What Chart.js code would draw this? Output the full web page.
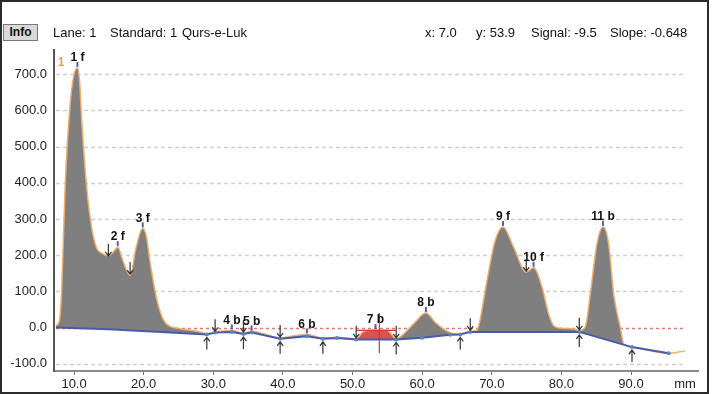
<!DOCTYPE html>
<html>
<head>
<meta charset="utf-8">
<script src="https://cdn.jsdelivr.net/npm/chart.js@4.4.0/dist/chart.umd.min.js"></script>
<style>
  html, body { margin: 0; padding: 0; background: #fff; }
  #wrap { position: relative; width: 713px; height: 394px; font-family: "Liberation Sans", Arial, sans-serif; }
  #frame { position: absolute; left: 0; top: 0; width: 709px; height: 394px; border: 2px solid #2a2a2a; box-sizing: border-box; pointer-events: none; }
  #info { position: absolute; left: 3px; top: 24px; width: 35px; height: 17px; box-sizing: border-box; background: #d9d9d9; border: 1px solid #777; font-weight: bold; font-size: 12px; line-height: 15px; text-align: center; color: #111; }
  .hd { position: absolute; top: 25px; font-size: 13px; line-height: 16px; color: #111; white-space: pre; }
  canvas { position: absolute; left: 0; top: 0; }
</style>
</head>
<body>
<div id="wrap">
  <canvas id="scan" width="713" height="394"></canvas>
  <div id="info">Info</div>
  <div class="hd" style="left:53px">Lane: 1</div>
  <div class="hd" style="left:110px">Standard: 1</div>
  <div class="hd" style="left:182px">Qurs-e-Luk</div>
  <div class="hd" style="left:425px">x: 7.0</div>
  <div class="hd" style="left:476px">y: 53.9</div>
  <div class="hd" style="left:531px">Signal: -9.5</div>
  <div class="hd" style="left:610px">Slope: -0.648</div>
  <div id="frame"></div>
</div>
<script>
// ---------- dados do densitograma ----------
const xTicks = [10, 20, 30, 40, 50, 60, 70, 80, 90];
const yTicks = [-100, 0, 100, 200, 300, 400, 500, 600, 700];

// sinal (mm / AU)
const signalMm = [7.4, 7.9, 8.23, 8.71, 9.43, 9.95, 10.48, 10.8, 11.11, 11.83, 12.55, 13.26, 14.0, 14.93,
  15.6, 16.28, 17.0, 18.05, 18.9, 19.87, 20.4, 20.92, 21.89, 22.83, 23.8, 25.2, 27.0, 28.1,
  29.07, 30.26, 32.66, 34.33, 35.54, 37.5, 39.6, 41.5, 43.44, 45.74, 47.75, 50.52, 51.5, 53.0,
  55.0, 56.27, 57.5, 59.0, 60.54, 62.0, 64.03, 65.47, 66.91, 67.87, 68.3, 69.31, 70.5, 71.61,
  73.13, 74.95, 76.0, 77.21, 78.16, 78.88, 80.0, 81.75, 82.57, 83.43, 84.15, 85.11, 85.98,
  86.78, 87.5, 88.46, 88.94, 90.14, 95.4, 97.8];
const signalVal = [5, 20, 108, 385, 615, 695, 717, 680, 569, 385, 274, 219, 205, 198,
  208, 222, 185, 144, 220, 274, 250, 181, 77, 22, 3, -3, -8, -12,
  -17, -12, -8, -15, -10, -19, -29, -23, -19, -29, -27, -31, -12, -7,
  -8, -31, -15, 15, 40, 12, -14, -17, -10, -8, 20, 130, 241, 278,
  222, 153, 165, 112, 38, 5, -2, -4, -8, 2, 93, 232, 278,
  232, 93, 1, -45, -54, -71, -64];

// linha de base
const baseMm = [7.4, 15.0, 25.2, 29.07, 30.26, 32.66, 34.33, 35.54, 39.6, 43.44, 45.74, 47.75,
  50.52, 56.27, 60.0, 64.03, 65.47, 66.91, 82.57, 90.14, 95.4];
const baseVal = [0, -5, -15, -19, -14, -12, -18, -14, -31, -24, -31, -29,
  -33, -33, -28, -20, -19, -12, -12, -54, -71];

// picos
const peakNames = ["1 f", "2 f", "3 f", "4 b", "5 b", "6 b", "7 b", "8 b", "9 f", "10 f", "11 b"];
const peakMm = [10.48, 16.28, 19.87, 32.66, 35.5, 43.44, 53.3, 60.54, 71.61, 76.0, 85.98];
const peakVal = [717, 222, 274, -8, -11, -19, -7, 40, 278, 165, 278];

// setas de início/fim
const downMm = [14.93, 18.05, 30.26, 34.33, 39.6, 50.52, 56.27, 66.91, 74.95, 82.57];
const downVal = [195, 145, -13, -15, -29, -31, -31, -10, 153, -9];
const upMm = [29.07, 34.33, 39.6, 45.74, 56.27, 65.47, 82.57, 90.14];
const upVal = [-19, -18, -31, -31, -33, -19, -12, -54];

const selRange = [50.5, 56.3];   // pico selecionado (7 b)
const cursorMm = 53.85;
const cursorVal = -8;

// ---------- plugin de anotações ----------
function seta(ctx, x, yTip, dir) {
  const len = 12;
  const yTail = dir < 0 ? yTip - len : yTip + len;
  const hy = dir < 0 ? yTip - 4 : yTip + 4;
  ctx.beginPath();
  ctx.moveTo(x, yTail);
  ctx.lineTo(x, yTip);
  ctx.moveTo(x - 3, hy);
  ctx.lineTo(x, yTip);
  ctx.lineTo(x + 3, hy);
  ctx.stroke();
}

const overlay = {
  id: "overlay",
  beforeDatasetsDraw(chart) {
    const { ctx, scales: { x, y } } = chart;
    const xEnd = x.getPixelForValue(97.6);
    ctx.save();
    ctx.lineWidth = 1.5;
    yTicks.forEach((v) => {
      const py = Math.round(y.getPixelForValue(v)) + 0.5;
      ctx.strokeStyle = v === 0 ? "#e07a7a" : "#cfcfcf";
      ctx.setLineDash(v === 0 ? [3, 3] : [4, 3]);
      ctx.beginPath();
      ctx.moveTo(x.left + 2, py);
      ctx.lineTo(xEnd, py);
      ctx.stroke();
    });
    ctx.restore();
  },
  afterDatasetsDraw(chart) {
    const { ctx, scales: { x, y } } = chart;
    ctx.save();

    // cursor
    const cx = x.getPixelForValue(cursorMm);
    ctx.strokeStyle = "#e03030";
    ctx.lineWidth = 1.2;
    ctx.beginPath();
    ctx.moveTo(cx, y.getPixelForValue(40));
    ctx.lineTo(cx, y.getPixelForValue(-70));
    ctx.moveTo(x.getPixelForValue(50.6), y.getPixelForValue(cursorVal));
    ctx.lineTo(x.getPixelForValue(56.2), y.getPixelForValue(cursorVal));
    ctx.stroke();

    // setas
    ctx.strokeStyle = "#333";
    ctx.lineWidth = 1.2;
    downMm.forEach((m, i) => seta(ctx, x.getPixelForValue(m), y.getPixelForValue(downVal[i]) - 1, -1));
    upMm.forEach((m, i) => seta(ctx, x.getPixelForValue(m), y.getPixelForValue(upVal[i]) + 3, 1));

    // picos
    ctx.font = "bold 12px 'Liberation Sans', Arial";
    ctx.textAlign = "center";
    ctx.textBaseline = "bottom";
    peakNames.forEach((nome, i) => {
      const px = x.getPixelForValue(peakMm[i]);
      const py = y.getPixelForValue(peakVal[i]);
      ctx.strokeStyle = "#5060c0";
      ctx.lineWidth = 2;
      ctx.beginPath();
      ctx.moveTo(px, py - 1);
      ctx.lineTo(px, py - 6);
      ctx.stroke();
      ctx.fillStyle = "#111";
      ctx.fillText(nome, px, py - 4);
    });

    // marcador da pista
    ctx.fillStyle = "#e8a050";
    ctx.font = "bold 12px 'Liberation Sans', Arial";
    ctx.fillText("1", x.getPixelForValue(8.15), y.getPixelForValue(715));
    ctx.restore();
  },
  afterDraw(chart) {
    const ctx = chart.ctx;
    ctx.save();
    ctx.fillStyle = "#222";
    ctx.font = "13px 'Liberation Sans', Arial";
    ctx.textAlign = "center";
    ctx.textBaseline = "middle";
    ctx.fillText("mm", 685, 384);
    ctx.restore();
  }
};

// ---------- gráfico ----------
Chart.defaults.font.family = "'Liberation Sans', Arial, sans-serif";

new Chart(document.getElementById("scan"), {
  type: "line",
  data: {
    datasets: [
      {
        label: "Baseline",
        data: baseMm.map((m, i) => ({ x: m, y: baseVal[i] })),
        borderColor: "#4a5aa8",
        borderWidth: 2,
        pointRadius: (c) => (c.dataIndex >= 3 ? 2 : 0),
        pointBackgroundColor: "#5b86b8",
        pointBorderWidth: 0,
        fill: false,
        tension: 0,
      },
      {
        label: "Signal",
        data: signalMm.map((m, i) => ({ x: m, y: signalVal[i] })),
        borderColor: "rgba(240,175,110,0.95)",
        borderWidth: 1.5,
        backgroundColor: "#7f7f7f",
        pointRadius: 0,
        fill: 0,
        cubicInterpolationMode: "monotone",
        segment: {
          backgroundColor: (c) =>
            c.p0.parsed.x >= selRange[0] && c.p1.parsed.x <= selRange[1] ? "#d4544f" : undefined,
        },
      },
    ],
  },
  options: {
    responsive: false,
    animation: false,
    devicePixelRatio: 1,
    layout: { padding: { top: 50, right: 15, left: 0, bottom: 0 } },
    plugins: { legend: { display: false }, tooltip: { enabled: false } },
    scales: {
      x: {
        type: "linear",
        min: 7.12,
        max: 99.62,
        afterBuildTicks: (s) => { s.ticks = xTicks.map((v) => ({ value: v })); },
        afterFit: (s) => { s.height = 23; },
        grid: { display: true, drawOnChartArea: false, drawTicks: true, tickLength: 4, color: "#777" },
        border: { display: true, color: "#8a8a8a", width: 2 },
        ticks: { color: "#222", font: { size: 13 }, padding: 2, maxRotation: 0, autoSkip: false,
          callback: (v) => Number(v).toFixed(1) },
      },
      y: {
        type: "linear",
        min: -120,
        max: 766.6,
        afterBuildTicks: (s) => { s.ticks = yTicks.map((v) => ({ value: v })); },
        afterFit: (s) => { s.width = 54; },
        grid: { display: false, drawTicks: false },
        border: { display: true, color: "#555", width: 2 },
        ticks: { color: "#222", font: { size: 13 }, padding: 7,
          callback: (v) => Number(v).toFixed(1) },
      },
    },
  },
  plugins: [overlay],
});
</script>
</body>
</html>
